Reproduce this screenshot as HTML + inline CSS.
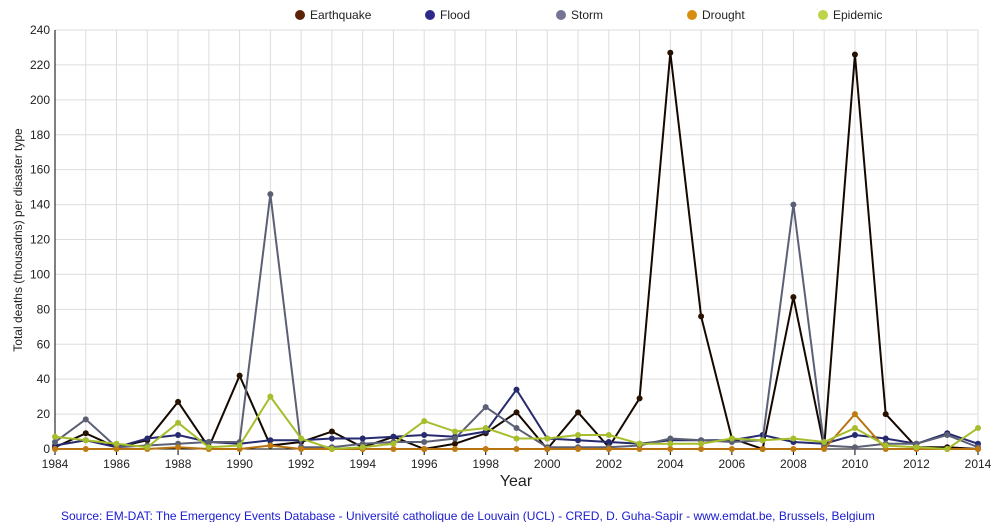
<!DOCTYPE html>
<html><head><meta charset="utf-8"><style>
body{margin:0;background:#fff;font-family:"Liberation Sans",Arial,sans-serif}
</style></head><body>
<svg id="c" width="998" height="522" style="display:block" font-family="Liberation Sans, Arial, sans-serif"></svg>
<script>
const years=[];for(let y=1984;y<=2014;y++)years.push(y);
const earthquake=[1,9,1,5,27,1,42,2,4,10,1,7,0,3,9,21,0,21,1,29,227,76,6,0,87,1,226,20,1,1,0];
const flood=[2,5,1,6,8,4,3,5,5,6,6,7,8,7,10,34,6,5,4,3,5,5,5,8,4,3,8,6,3,9,3];
const storm=[4,17,1,2,3,4,4,146,1,1,3,4,4,6,24,12,1,1,1,2,6,5,4,5,140,2,1,3,3,8,1];
const drought=[0,0,0,0,1,0,0,2,0,0,0,0,0,0,0,0,0,0,0,0,0,0,0,0,0,0,20,0,0,0,0];
const epidemic=[7,5,3,1,15,1,2,30,6,0,1,3,16,10,12,6,6,8,8,3,3,3,6,5,6,4,12,2,1,0,12];
const yTicks=[0,20,40,60,80,100,120,140,160,180,200,220,240];
const xTickLabels=[1984,1986,1988,1990,1992,1994,1996,1998,2000,2002,2004,2006,2008,2010,2012,2014];
const series=[
 {name:'Earthquake',data:earthquake,line:'#140800',dot:'#2a1200',leg:'#5a2305'},
 {name:'Flood',data:flood,line:'#262a6e',dot:'#262a6e',leg:'#2e2a8a'},
 {name:'Storm',data:storm,line:'#5c6075',dot:'#5c6075',leg:'#747494'},
 {name:'Drought',data:drought,line:'#b87410',dot:'#c07a10',leg:'#d98d10'},
 {name:'Epidemic',data:epidemic,line:'#a6bd2c',dot:'#a6bd2c',leg:'#bcd448'}];
const L=55,R=978,T=30,B=449;
const xs=y=>L+(y-1984)/30*(R-L);
const ys=v=>B-v/240*(B-T);
const svg=document.getElementById('c');const NS='http://www.w3.org/2000/svg';
function mk(t,a,p){const e=document.createElementNS(NS,t);for(const k in a)e.setAttribute(k,a[k]);(p||svg).appendChild(e);return e;}
const g=mk('g',{});


years.forEach(y=>mk('line',{x1:xs(y),x2:xs(y),y1:T,y2:B,stroke:'#ddd','stroke-width':1},g));
yTicks.forEach(v=>{mk('line',{x1:L,x2:R,y1:ys(v),y2:ys(v),stroke:'#ddd','stroke-width':1},g);
 const t=mk('text',{x:L-5,y:ys(v)+4,'text-anchor':'end','font-size':12,fill:'#222'});t.textContent=v;
 
 });
mk('line',{x1:L,x2:L,y1:T,y2:B,stroke:'#000'});
mk('line',{x1:L,x2:R,y1:B,y2:B,stroke:'#000'});
xTickLabels.forEach(y=>{mk('line',{x1:xs(y),x2:xs(y),y1:B,y2:B+6,stroke:'#000'});
 const t=mk('text',{x:xs(y),y:B+19,'text-anchor':'middle','font-size':12,fill:'#222'});t.textContent=y;
 
 });
series.forEach(s=>{
 const sg=mk('g',{});
 
 
 mk('polyline',{points:s.data.map((v,i)=>xs(years[i])+','+ys(v)).join(' '),fill:'none',stroke:s.line,'stroke-width':2},sg);
 s.data.forEach((v,i)=>{const c=mk('circle',{cx:xs(years[i]),cy:ys(v),r:3,fill:s.dot},sg);
  
  });
});
const legX=[300,430,561,692,823];
series.forEach((s,i)=>{const lg=mk('g',{});
 
 
 mk('circle',{cx:legX[i],cy:15,r:5,fill:s.leg},lg);
 const t=mk('text',{x:legX[i]+10,y:19,'font-size':12,fill:'#222'},lg);t.textContent=s.name;});
const xt=mk('text',{x:516,y:486,'text-anchor':'middle','font-size':16,fill:'#222'});xt.textContent='Year';


const yt=mk('text',{x:0,y:0,'text-anchor':'middle','font-size':12,fill:'#222',transform:'translate(22,240) rotate(-90)'});yt.textContent='Total deaths (thousadns) per  disaster type';


const src=mk('text',{x:61,y:520,'font-size':12,fill:'#1a1ad0'});src.textContent='Source: EM-DAT: The Emergency Events Database - Université catholique de Louvain (UCL) - CRED, D. Guha-Sapir - www.emdat.be, Brussels, Belgium';


</script>
</body></html>
